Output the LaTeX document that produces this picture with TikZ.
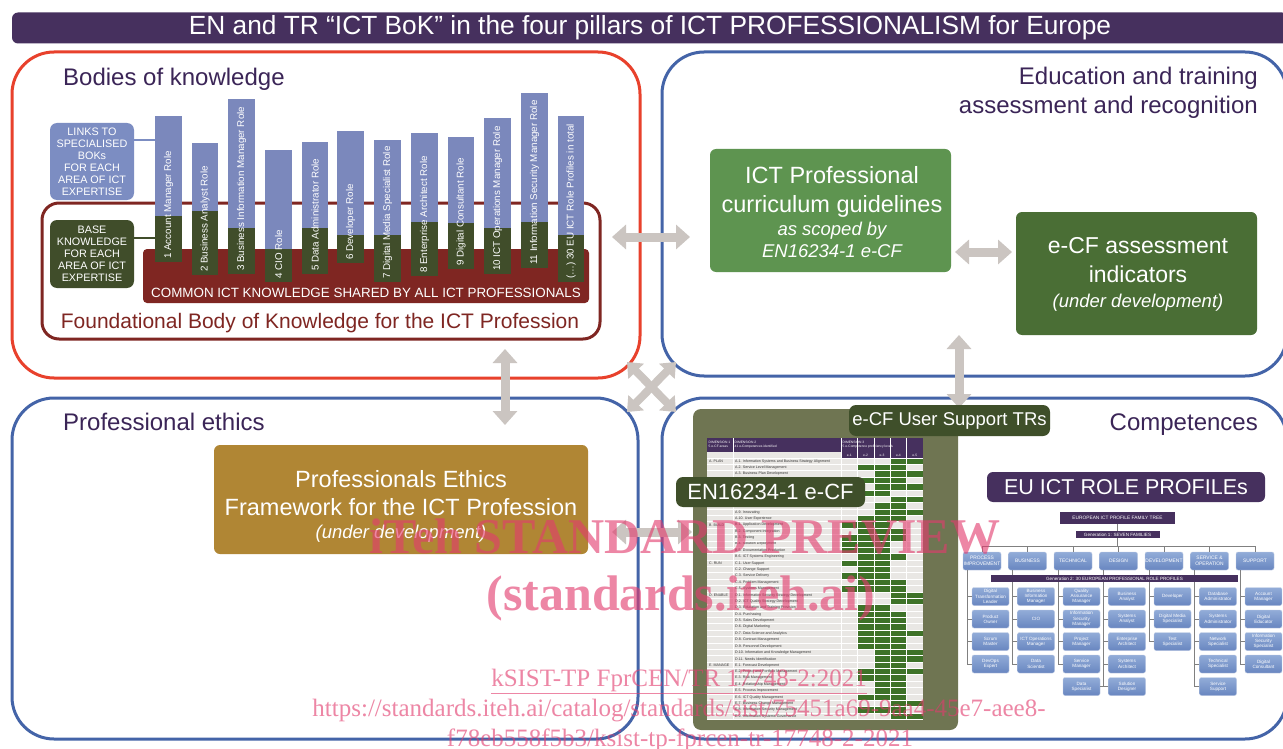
\documentclass[tikz,border=0pt]{standalone}
\usepackage{fontspec}
\setmainfont{Liberation Sans}
\newfontfamily\wmfont{Liberation Serif}
\usetikzlibrary{arrows.meta}
\definecolor{titlepurple}{RGB}{70,48,94}
\definecolor{headtext}{RGB}{59,37,87}
\definecolor{framered}{RGB}{232,65,44}
\definecolor{frameblue}{RGB}{68,100,168}
\definecolor{bokred}{RGB}{127,38,34}
\definecolor{barblue}{RGB}{123,136,188}
\definecolor{bargreen}{RGB}{64,77,42}
\definecolor{callblue}{RGB}{124,141,194}
\definecolor{ictgreen}{RGB}{94,148,80}
\definecolor{ecfgreen}{RGB}{74,110,53}
\definecolor{ethicsbrown}{RGB}{176,134,52}
\definecolor{olive}{RGB}{111,117,82}
\definecolor{darkgreen}{RGB}{63,79,42}
\definecolor{arrowgrey}{RGB}{203,197,193}
\definecolor{cellgreen}{RGB}{62,114,40}
\definecolor{tablebg}{RGB}{233,231,228}
\definecolor{proftop}{RGB}{146,172,216}
\definecolor{profbot}{RGB}{104,134,192}
\definecolor{linegrey}{RGB}{128,128,128}
\definecolor{wmpink}{RGB}{226,60,110}
\newcommand{\fsz}[2]{\fontsize{#1}{#2}\selectfont}
\tikzset{
  frame/.style={draw, line width=3pt, rounded corners=42pt, inner sep=0pt},
  heading/.style={text=headtext, font=\fsz{24}{28}, inner sep=0pt},
  rbox/.style={rounded corners=6pt, inner sep=0pt},
  btext/.style={text=white, inner sep=0pt, anchor=base},
  barlab/.style={text=white, rotate=90, anchor=west, inner sep=0pt, font=\fsz{9.8}{12}},
  bigarrow/.style={line width=9pt, draw=arrowgrey, arrows={Triangle[length=14pt,width=24pt]-Triangle[length=14pt,width=24pt]}},
  smallarrow/.style={line width=8pt, draw=arrowgrey, arrows={Triangle[length=13pt,width=21pt]-Triangle[length=13pt,width=21pt]}},
  purplebox/.style={fill=titlepurple, inner sep=0pt, text=white},
  profbox/.style={rounded corners=2pt, top color=proftop, bottom color=profbot, draw=white!60!profbot, line width=0.4pt, inner sep=0pt, text=white, align=center, font=\fsz{4.6}{5.2}},
  treeline/.style={draw=linegrey, line width=0.7pt},
  tabtext/.style={anchor=west, inner sep=0pt, font=\fsz{3.6}{4}, text=black!80},
  wm/.style={text=wmpink, text opacity=0.62, inner sep=0pt, anchor=base}
}
\begin{document}
\begin{tikzpicture}[x=1pt,y=-1pt]
\useasboundingbox (0,0) rectangle (1283,749);
\fill[white] (0,0) rectangle (1283,749);

% title
\node[fill=titlepurple, rounded corners=6pt, minimum width=1276pt, minimum height=31pt, inner sep=0pt, text=white, font=\fsz{26.3}{30}] (title) at (650,28) {EN and TR “ICT BoK” in the four pillars of ICT PROFESSIONALISM for Europe};

% four frames
\node[frame, draw=framered, minimum width=628pt, minimum height=326pt] (bok) at (326,215) {};
\node[frame, draw=frameblue, minimum width=625pt, minimum height=324pt] (edu) at (974.5,214) {};
\node[frame, draw=frameblue, minimum width=626pt, minimum height=341pt] (eth) at (325,568.5) {};
\node[frame, draw=frameblue, minimum width=625pt, minimum height=341pt] (comp) at (974.5,568.5) {};

% headings
\node[heading, anchor=base west] (hbok) at (63,86) {Bodies of knowledge};
\node[heading, anchor=base east] (hedu1) at (1258,85) {Education and training};
\node[heading, anchor=base east] (hedu2) at (1258,114) {assessment and recognition};
\node[heading, anchor=base west] (heth) at (63,430) {Professional ethics};
\node[heading, anchor=base east] (hcomp) at (1258,430) {Competences};

% arrows between pillars
\coordinate (ah1) at (612,237); \coordinate (ah2) at (690,237);
\draw[bigarrow] (ah1) -- (ah2);
\coordinate (av1) at (505,349); \coordinate (av2) at (505,425);
\draw[bigarrow] (av1) -- (av2);
\coordinate (aw1) at (959,335); \coordinate (aw2) at (959,408);
\draw[bigarrow] (aw1) -- (aw2);
\coordinate (ab1) at (612,532); \coordinate (ab2) at (692,532);
\draw[bigarrow] (ab1) -- (ab2);
\coordinate (ax1) at (627,362); \coordinate (ax2) at (676,412);
\coordinate (ax3) at (676,362); \coordinate (ax4) at (627,412);
\draw[smallarrow] (ax1) -- (ax2);
\draw[smallarrow] (ax3) -- (ax4);

% ---------- Bodies of knowledge ----------
\node[draw=bokred, line width=3pt, rounded corners=17pt, minimum width=558pt, minimum height=136pt, inner sep=0pt] (fbok) at (321,271) {};
\node[fill=bokred, rounded corners=4pt, minimum width=446pt, minimum height=54pt, inner sep=0pt] (common) at (366,276) {};
\node[btext, font=\fsz{13.4}{16}] (commontxt) at (366,297) {COMMON ICT KNOWLEDGE SHARED BY ALL ICT PROFESSIONALS};
\node[anchor=base, text=bokred, font=\fsz{21}{25}, inner sep=0pt] (foundtxt) at (320,328) {Foundational Body of Knowledge for the ICT Profession};

\node[fill=callblue, rounded corners=7pt, minimum width=84pt, minimum height=77pt, inner sep=0pt, text=white, align=center, font=\fsz{10.8}{12}] (links) at (92,161.5) {LINKS TO\\SPECIALISED\\BOKs\\FOR EACH\\AREA OF ICT\\EXPERTISE};
\node[fill=bargreen, rounded corners=7pt, minimum width=84pt, minimum height=68pt, inner sep=0pt, text=white, align=center, font=\fsz{10.8}{12}] (base) at (92,254) {BASE\\KNOWLEDGE\\FOR EACH\\AREA OF ICT\\EXPERTISE};
\coordinate (lk) at (156,140);
\draw[callblue, line width=2pt] (links.east |- lk) -- (lk);
\coordinate (bk) at (156,238);
\draw[bargreen, line width=2pt] (base.east |- bk) -- (bk);

\foreach \i/\xl/\xr/\tp/\gr/\bt/\lab in {
1/155/182/116/216/262/{1 Account Manager Role},
2/192/218/143/211/275/{2 Business Analyst Role},
3/228/255/99/228/274/{3 Business Information Manager Role},
4/265/292/150/249/282/{4 CIO Role},
5/302/328/142/228/274/{5 Data Administrator Role},
6/337/364/131/235/263/{6 Developer Role},
7/374/401/140/235/282/{7 Digital Media Specialist Role},
8/411/438/133/222/276/{8 Enterprise Architect Role},
9/448/474/137/223/269/{9 Digital Consultant Role},
10/484/511/118/228/274/{10 ICT Operations Manager Role},
11/521/548/93/222/268/{11 Information Security Manager Role},
12/558/584/116/235/282/{(…) 30 EU ICT Role Profiles in total}}{
  \fill[barblue] (\xl,\tp) rectangle (\xr,\gr);
  \fill[bargreen] (\xl,\gr) rectangle (\xr,\bt);
  \node[barlab] (bar\i) at ({(\xl+\xr)/2},{\bt-3}) {\lab};
}

% ---------- Education ----------
\node[rbox, fill=ictgreen, minimum width=241pt, minimum height=123pt] (ict) at (830.5,210.5) {};
\node[btext, font=\fsz{23.5}{28}] (ict1) at (832,183) {ICT Professional};
\node[btext, font=\fsz{23.5}{28}] (ict2) at (832,212) {curriculum guidelines};
\node[btext, font=\fsz{18.5}{22}\itshape] (ict3) at (832,235) {as scoped by};
\node[btext, font=\fsz{18.5}{22}\itshape] (ict4) at (832,257) {EN16234-1 e-CF};

\node[rbox, fill=ecfgreen, minimum width=241pt, minimum height=123pt] (ecf) at (1136.5,273.5) {};
\node[btext, font=\fsz{23}{28}] (ecf1) at (1138,253) {e-CF assessment};
\node[btext, font=\fsz{23}{28}] (ecf2) at (1138,282) {indicators};
\node[btext, font=\fsz{18.5}{22}\itshape] (ecf3) at (1138,307) {(under development)};
\coordinate (ae1) at (955,252); \coordinate (ae2) at (1012,252);
\draw[bigarrow] (ae1) -- (ae2);

% ---------- Ethics ----------
\node[rbox, fill=ethicsbrown, minimum width=374pt, minimum height=109pt] (ethbox) at (401,499.5) {};
\node[btext, font=\fsz{23.5}{28}] (eth1) at (401,487) {Professionals Ethics};
\node[btext, font=\fsz{23.5}{28}] (eth2) at (401,515) {Framework for the ICT Profession};
\node[btext, font=\fsz{18.5}{22}\itshape] (eth3) at (401,538) {(under development)};

% ---------- Competences: e-CF table ----------
\node[rounded corners=8pt, fill=olive, minimum width=265pt, minimum height=321pt, inner sep=0pt] (panel) at (825.5,569.5) {};
\fill[titlepurple] (707,438) rectangle (923,452);
\fill[titlepurple] (841,452) rectangle (923,458);
\fill[tablebg] (707,452) rectangle (841,458);
\fill[tablebg] (707,458) rectangle (923,719.4);
\node[anchor=north west, inner sep=0pt, text=white, font=\fsz{3.3}{4}, align=left] (d1) at (708.5,440.5) {DIMENSION 1\\5 e-CF areas};
\node[anchor=north west, inner sep=0pt, text=white, font=\fsz{3.3}{4}, align=left] (d2) at (734.5,440.5) {DIMENSION 2\\41 e-Competences identified};
\node[anchor=north west, inner sep=0pt, text=white, font=\fsz{3.3}{4}, align=left] (d3) at (842.5,440.5) {DIMENSION 3\\5 e-Competence proficiency levels};
\foreach \l in {1,...,5} \node[inner sep=0pt, text=white, font=\fsz{3.3}{4}] (ev\l) at ({841+16.4*(\l-0.5)},455) {e-\l};

\foreach \i/\lab/\lv in {
0/{A.1. Information Systems and Business Strategy Alignment}/{4,5},
1/{A.2. Service Level Management}/{2,3,4},
2/{A.3. Business Plan Development}/{3,4,5},
3/{A.4. Product/Service Planning}/{2,3,4},
4/{A.5. Architecture Design}/{3,4,5},
5/{A.6. Application Design}/{1,2,3},
6/{A.7. Technology Trend Monitoring}/{4,5},
7/{A.8. Sustainable Development}/{3,4},
8/{A.9. Innovating}/{3,4,5},
9/{A.10. User Experience}/{2,3,4},
10/{B.1. Application Development}/{1,2,3},
11/{B.2. Component Integration}/{2,3,4},
12/{B.3. Testing}/{1,2,3,4},
13/{B.4. Solution Deployment}/{1,2,3},
14/{B.5. Documentation Production}/{1,2,3},
15/{B.6. ICT Systems Engineering}/{2,3,4},
16/{C.1. User Support}/{1,2,3},
17/{C.2. Change Support}/{2,3},
18/{C.3. Service Delivery}/{1,2,3},
19/{C.4. Problem Management}/{2,3,4},
20/{C.5. Systems Management}/{1,2,3,4},
21/{D.1. Information Security Strategy Development}/{4,5},
22/{D.2. ICT Quality Strategy Development}/{4,5},
23/{D.3. Education and Training Provision}/{2,3},
24/{D.4. Purchasing}/{2,3,4},
25/{D.5. Sales Development}/{2,3,4},
26/{D.6. Digital Marketing}/{2,3,4},
27/{D.7. Data Science and Analytics}/{2,3,4,5},
28/{D.8. Contract Management}/{2,3,4},
29/{D.9. Personnel Development}/{2,3,4},
30/{D.10. Information and Knowledge Management}/{3,4,5},
31/{D.11. Needs Identification}/{3,4,5},
32/{E.1. Forecast Development}/{3,4},
33/{E.2. Project and Portfolio Management}/{2,3,4,5},
34/{E.3. Risk Management}/{2,3,4},
35/{E.4. Relationship Management}/{3,4},
36/{E.5. Process Improvement}/{3,4},
37/{E.6. ICT Quality Management}/{2,3,4},
38/{E.7. Business Change Management}/{4,5},
39/{E.8. Information Security Management}/{2,3,4},
40/{E.9. Information Systems Governance}/{4,5}}{
  \foreach \l in \lv {
    \fill[cellgreen] ({841+16.4*(\l-1)},{458+\i*6.375}) rectangle ++(16.4,6.375);
  }
  \node[tabtext] (row\i) at (735,{461.19+\i*6.375}) {\lab};
}
\foreach \k in {0,...,41} \draw[white, line width=0.6pt] (707,{458+\k*6.375}) -- (923,{458+\k*6.375});
\foreach \vx in {733,841,857.4,873.8,890.2,906.6} \draw[white, line width=0.6pt] (\vx,438) -- (\vx,719.4);
\foreach \i/\c in {0/A. PLAN,10/B. BUILD,16/C. RUN,21/D. ENABLE,32/E. MANAGE}
  \node[tabtext] (cat\i) at (709,{461.19+\i*6.375}) {\c};

\node[rounded corners=7pt, fill=darkgreen, minimum width=189pt, minimum height=30pt, inner sep=0pt, text=white, font=\fsz{22}{26}] (en16234) at (770.5,492) {EN16234-1 e-CF};
\node[rounded corners=7pt, fill=darkgreen, minimum width=201pt, minimum height=31pt, inner sep=0pt, text=white, font=\fsz{18.5}{22}] (support) at (949.5,420.5) {e-CF User Support TRs};

% ---------- Role profiles ----------
\node[rounded corners=6pt, fill=titlepurple, minimum width=278pt, minimum height=30pt, inner sep=0pt, text=white, font=\fsz{21.5}{26}] (eurole) at (1126,487) {EU ICT ROLE PROFILEs};
\node[purplebox, minimum width=115pt, minimum height=12pt, font=\fsz{4.8}{5}] (ft) at (1117.5,518) {EUROPEAN ICT PROFILE FAMILY TREE};
\coordinate (hl) at (1117.5,546);
\draw[treeline] (ft.south) -- (hl);
\node[purplebox, minimum width=84pt, minimum height=7pt, font=\fsz{4.6}{5}] (gen1) at (1117.5,534.5) {Generation 1: SEVEN FAMILIES};
\coordinate (hla) at (982,546); \coordinate (hlb) at (1255,546);
\draw[treeline] (hla) -- (hlb);
\foreach \j/\lab in {1/{PROCESS\\IMPROVEMENT},2/BUSINESS,3/TECHNICAL,4/DESIGN,5/DEVELOPMENT,6/{SERVICE \&\\OPERATION},7/SUPPORT}{
  \node[profbox, minimum width=38pt, minimum height=18pt, font=\fsz{4.9}{5.6}] (fam\j) at ({982+45.5*(\j-1)},561) {\lab};
  \draw[treeline] (fam\j.north) -- ++(0,-6);
}
\foreach \L/\last in {967/664,1012.5/664,1058/664,1103.5/686.5,1149/641.5,1194.5/686.5,1240/664}
  \draw[treeline] (\L,570) -- (\L,\last);

\foreach \nm/\cx/\cy/\lab in {
c11/990.5/596.5/{Digital\\Transformation\\Leader}, c12/990.5/619/{Product\\Owner}, c13/990.5/641.5/{Scrum\\Master}, c14/990.5/664/{DevOps\\Expert},
c21/1036/596.5/{Business\\Information\\Manager}, c22/1036/619/{CIO}, c23/1036/641.5/{ICT Operations\\Manager}, c24/1036/664/{Data\\Scientist},
c31/1081.5/596.5/{Quality\\Assurance\\Manager}, c32/1081.5/619/{Information\\Security\\Manager}, c33/1081.5/641.5/{Project\\Manager}, c34/1081.5/664/{Service\\Manager},
c41/1127/596.5/{Business\\Analyst}, c42/1127/619/{Systems\\Analyst}, c43/1127/641.5/{Enterprise\\Architect}, c44/1127/664/{Systems\\Architect}, c45/1127/686.5/{Solution\\Designer},
c51/1172.5/596.5/{Developer}, c52/1172.5/619/{Digital Media\\Specialist}, c53/1172.5/641.5/{Test\\Specialist},
c61/1218/596.5/{Database\\Administrator}, c62/1218/619/{Systems\\Administrator}, c63/1218/641.5/{Network\\Specialist}, c64/1218/664/{Technical\\Specialist}, c65/1218/686.5/{Service\\Support},
c71/1263.5/596.5/{Account\\Manager}, c72/1263.5/619/{Digital\\Educator}, c73/1263.5/641.5/{Information\\Security\\Specialist}, c74/1263.5/664/{Digital\\Consultant}}{
  \node[profbox, minimum width=37pt, minimum height=18pt] (\nm) at (\cx,\cy) {\lab};
  \draw[treeline] (\nm.west) -- ++(-5,0);
}
\node[profbox, minimum width=37pt, minimum height=18pt] (c35) at (1081.5,686.5) {Data\\Specialist};
\draw[treeline] (c35.east) -- (c45.west);
\node[purplebox, minimum width=247pt, minimum height=7pt, font=\fsz{4.6}{5}] (gen2) at (1114.5,578.5) {Generation 2: 30 EUROPEAN PROFESSIONAL ROLE PROFILES};

% ---------- watermark ----------
\node[wm, font=\wmfont\bfseries\fsz{50}{50}] (wm1) at (685,553) {iTeh STANDARD PREVIEW};
\node[wm, font=\wmfont\bfseries\fsz{50}{50}] (wm2) at (681,610) {(standards.iteh.ai)};
\node[wm, font=\wmfont\fsz{25}{28}] (wm3) at (679,686) {\underline{kSIST-TP FprCEN/TR 17748-2:2021}};
\node[wm, font=\wmfont\fsz{25}{28}] (wm4) at (679,716) {https://standards.iteh.ai/catalog/standards/sist/75451a69-9aa4-45e7-aee8-};
\node[wm, font=\wmfont\fsz{25}{28}] (wm5) at (680,746) {f78eb558f5b3/ksist-tp-fprcen-tr-17748-2-2021};
\end{tikzpicture}
\end{document}
